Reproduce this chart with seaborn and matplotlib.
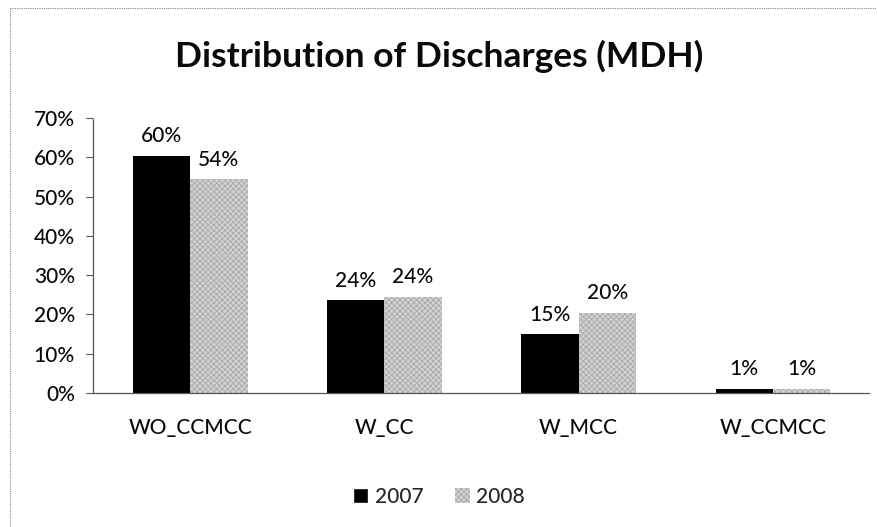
import pandas as pd
import matplotlib
matplotlib.use("Agg")
import matplotlib.pyplot as plt
from matplotlib.lines import Line2D
from matplotlib.ticker import PercentFormatter, FixedLocator
import seaborn as sns

# values (fractions)
categories = ["WO_CCMCC", "W_CC", "W_MCC", "W_CCMCC"]
years = ["2007", "2008"]
share_2007 = [0.603, 0.236, 0.149, 0.011]
share_2008 = [0.544, 0.244, 0.204, 0.010]
y_ticks = [0.0, 0.1, 0.2, 0.3, 0.4, 0.5, 0.6, 0.7]

df = pd.DataFrame({
    "Category": categories * 2,
    "Year": [years[0]] * len(categories) + [years[1]] * len(categories),
    "Share": share_2007 + share_2008,
})

sns.set_style("white")
plt.rcParams["font.family"] = ["Lato", "DejaVu Sans"]
plt.rcParams["hatch.linewidth"] = 0.6

fig = plt.figure(figsize=(8.78, 5.27), dpi=100)
ax = fig.add_axes([0.106, 0.2543, 0.885, 0.5217])

sns.barplot(data=df, x="Category", y="Share", hue="Year", order=categories,
            hue_order=years, palette=["#000000", "#d2d2d2"], width=0.59,
            gap=0, saturation=1, ax=ax, legend=False)

# texture for the 2008 series
for bar in ax.containers[1]:
    bar.set_hatch("xxxxxx")
    bar.set_edgecolor("#a8a8a8")
    bar.set_linewidth(0)
for bar in ax.containers[0]:
    bar.set_linewidth(0)

txt = dict(fontsize=15, color="#0a0a0a", fontweight="medium")
for cont in ax.containers:
    ax.bar_label(cont, labels=[f"{v * 100:.0f}%" for v in cont.datavalues],
                 padding=7, **txt)

ax.set_ylim(0, 0.7)
ax.set_xlim(-0.5, len(categories) - 0.5)
ax.yaxis.set_major_locator(FixedLocator(y_ticks))
ax.yaxis.set_major_formatter(PercentFormatter(1.0, decimals=0))
ax.set_xlabel("")
ax.set_ylabel("")

ax.tick_params(axis="x", which="major", length=0, pad=18, labelsize=15,
               labelcolor="#0a0a0a")
ax.set_xticks([i + 0.5 for i in range(len(categories))], minor=True)
ax.tick_params(axis="x", which="minor", length=5, width=0.8, color="#555555",
               direction="out")
ax.tick_params(axis="y", length=5, width=0.8, color="#555555", pad=8,
               labelsize=15, labelcolor="#0a0a0a", direction="out", left=True)
for lab in ax.get_xticklabels() + ax.get_yticklabels():
    lab.set_fontweight("medium")

for side in ["top", "right"]:
    ax.spines[side].set_visible(False)
for side in ["left", "bottom"]:
    ax.spines[side].set_linestyle((0, (1, 1)))
    ax.spines[side].set_color("#555555")
    ax.spines[side].set_linewidth(0.9)

fig.suptitle("Distribution of Discharges (MDH)", x=0.5, y=0.892, va="center",
             fontsize=25.5, fontweight="bold", color="#0a0a0a")

handles = [plt.Rectangle((0, 0), 1, 1, facecolor="#000000"),
           plt.Rectangle((0, 0), 1, 1, facecolor="#d2d2d2", hatch="xxxxxx",
                         edgecolor="#a8a8a8", linewidth=0)]
fig.legend(handles, years, loc="center", bbox_to_anchor=(0.5, 0.057), ncol=2,
           frameon=False, prop={"size": 15, "weight": "medium"},
           handlelength=0.75, handleheight=0.75, handletextpad=0.3,
           columnspacing=1.5)

# dotted chart-area border (left and top edges visible in the scan)
fig.add_artist(Line2D([0.0114, 0.0114], [0.0, 0.985], transform=fig.transFigure,
                      color="#888888", linewidth=0.8, linestyle=(0, (1, 1))))
fig.add_artist(Line2D([0.0114, 1.0], [0.985, 0.985], transform=fig.transFigure,
                      color="#888888", linewidth=0.8, linestyle=(0, (1, 1))))

fig.savefig("out.png", dpi=100)
